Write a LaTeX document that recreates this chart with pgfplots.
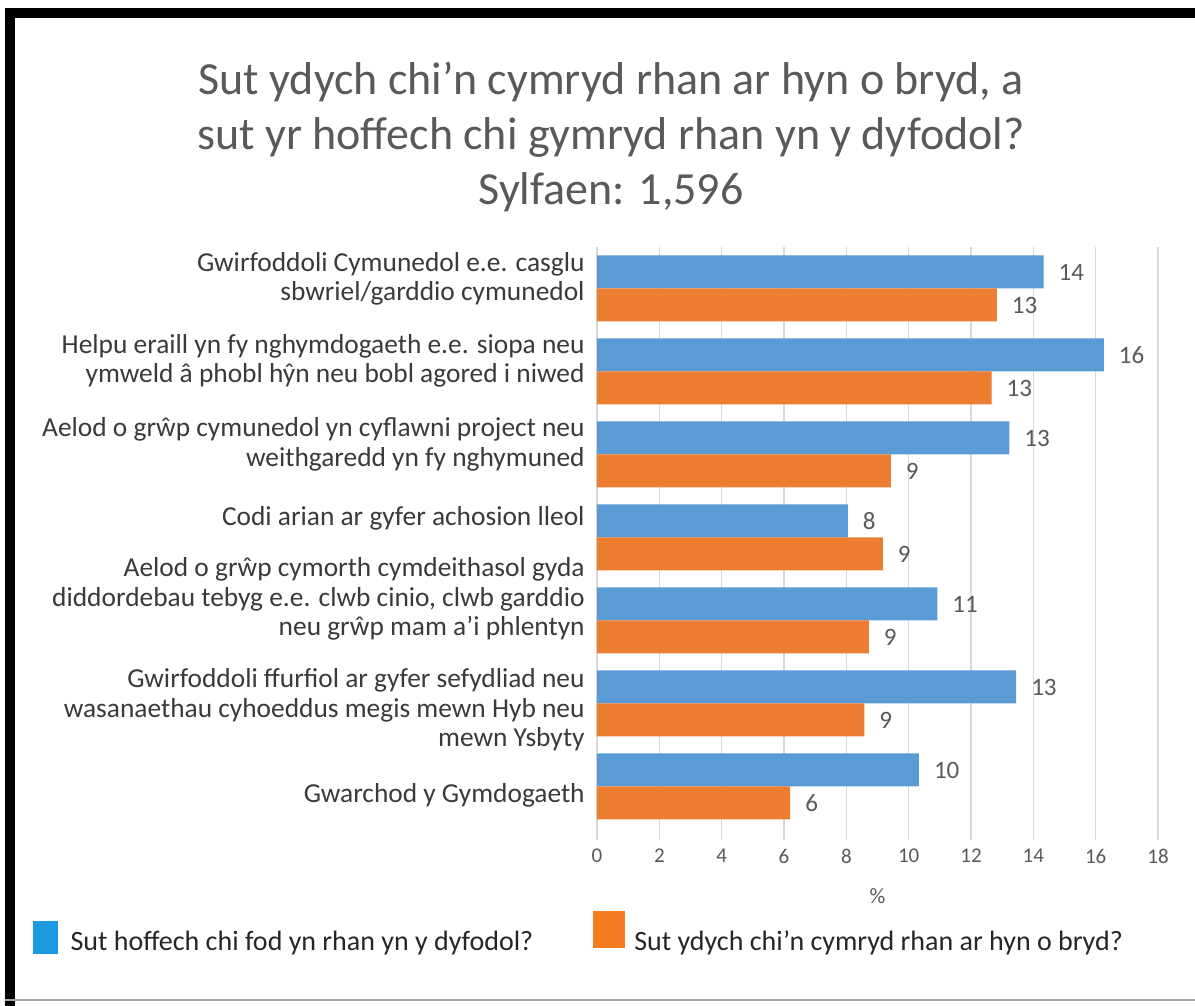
\documentclass[border=0pt]{standalone}
\usepackage{fontspec}
\setmainfont{Carlito}
\usepackage{pgfplots}
\pgfplotsset{compat=1.18}
\definecolor{barblue}{HTML}{5B9BD5}
\definecolor{barorange}{HTML}{ED7D31}
\definecolor{legblue}{HTML}{1B9AE0}
\definecolor{legorange}{HTML}{F47C20}
\definecolor{txtgray}{HTML}{595959}
\definecolor{labgray}{HTML}{3A3A3A}
\definecolor{gridgray}{HTML}{D9D9D9}
\newcommand{\cat}[2]{\smash{\raisebox{#1}{\begin{tabular}{@{}r@{}}#2\end{tabular}}}}

\pgfplotstableread{
y   v     lab
7   14.33 14
6   16.26 16
5   13.23 13
4   8.05  8
3   10.92 11
2   13.45 13
1   10.33 10
}\futuretab
\pgfplotstableread{
y   v     lab
7   12.83 13
6   12.66 13
5   9.43  9
4   9.17  9
3   8.72  9
2   8.58  9
1   6.20  6
}\nowtab

\begin{document}
\begin{tikzpicture}
\path[use as bounding box, fill=white] (0,0) rectangle (597.5pt,503pt);
% frame
\fill[black] (2.5pt,0pt) rectangle (7.5pt,499pt);
\fill[black] (2.5pt,494pt) rectangle (597.5pt,499pt);
\draw[gray!70, line width=1pt] (2.5pt,3pt) -- (597.5pt,3pt);
\begin{axis}[
  at={(298.5pt,89pt)}, anchor=south west,
  scale only axis, width=280.5pt, height=290.5pt,
  xbar, bar width=16.5pt,
  xmin=0, xmax=18, ymin=0.5, ymax=7.5,
  xtick={0,2,...,18},
  ytick={1,...,7},
  yticklabels={
    {\cat{-8.5pt}{Gwarchod y Gymdogaeth}},
    {\cat{-7.5pt}{Gwirfoddoli ffurfiol ar gyfer sefydliad neu\\wasanaethau cyhoeddus megis mewn Hyb neu\\mewn Ysbyty}},
    {\cat{6.5pt}{Aelod o grŵp cymorth cymdeithasol gyda\\diddordebau tebyg e.e. clwb cinio, clwb garddio\\neu grŵp mam a’i phlentyn}},
    {\cat{5.5pt}{Codi arian ar gyfer achosion lleol}},
    {\cat{0.75pt}{Aelod o grŵp cymunedol yn cyflawni project neu\\weithgaredd yn fy nghymuned}},
    {\cat{1pt}{Helpu eraill yn fy nghymdogaeth e.e. siopa neu\\ymweld â phobl hŷn neu bobl agored i niwed}},
    {\cat{0.5pt}{Gwirfoddoli Cymunedol e.e. casglu\\sbwriel/garddio cymunedol}}
  },
  yticklabel style={font=\fontsize{13.7}{14.75}\selectfont, text=labgray, inner sep=0pt},
  xticklabel style={font=\fontsize{10.5}{12}\selectfont, text=txtgray, yshift=-1pt},
  /pgf/number format/assume math mode=true,
  tick pos=left, tick align=outside, major tick length=6pt,
  xtick style={gridgray, line width=0.75pt},
  ytick style={draw=none},
  axis line style={draw=none},
  xmajorgrids, grid style={gridgray, line width=0.75pt},
  xlabel={\%}, xlabel style={font=\fontsize{11}{12}\selectfont, text=txtgray, yshift=-5.5pt},
  title={Sut ydych chi’n cymryd rhan ar hyn o bryd, a\\sut yr hoffech chi gymryd rhan yn y dyfodol?\\Sylfaen: 1,596},
  title style={at={(axis description cs:0.025,1.168)}, anchor=center, align=center,
    font=\fontsize{23}{27.5}\selectfont, text=txtgray},
  nodes near coords, point meta=explicit symbolic,
  every node near coord/.append style={font=\fontsize{12.5}{13}\selectfont, text=txtgray, anchor=west, xshift=4pt},
  legend columns=2,
  legend style={at={(axis description cs:-1.0175,-0.183)}, anchor=west, draw=none, fill=none,
    font=\fontsize{14}{15}\selectfont, text=black!85,
    /tikz/every even column/.append style={column sep=28pt}},
  legend cell align=left,
]
\addplot[fill=barblue, draw=none, bar shift=8.25pt,
  legend image code/.code={\fill[legblue] (0pt,-6pt) rectangle (12.5pt,10.5pt); \path (17pt,0pt);}]
  table[x=v, y=y, meta=lab] {\futuretab};
\addplot[fill=barorange, draw=none, bar shift=-8.25pt,
  legend image code/.code={\fill[legorange] (0pt,-2.75pt) rectangle (16pt,15.75pt); \path (18.5pt,0pt);}]
  table[x=v, y=y, meta=lab] {\nowtab};
\legend{Sut hoffech chi fod yn rhan yn y dyfodol?, Sut ydych chi’n cymryd rhan ar hyn o bryd?}
\end{axis}
\end{tikzpicture}
\end{document}
